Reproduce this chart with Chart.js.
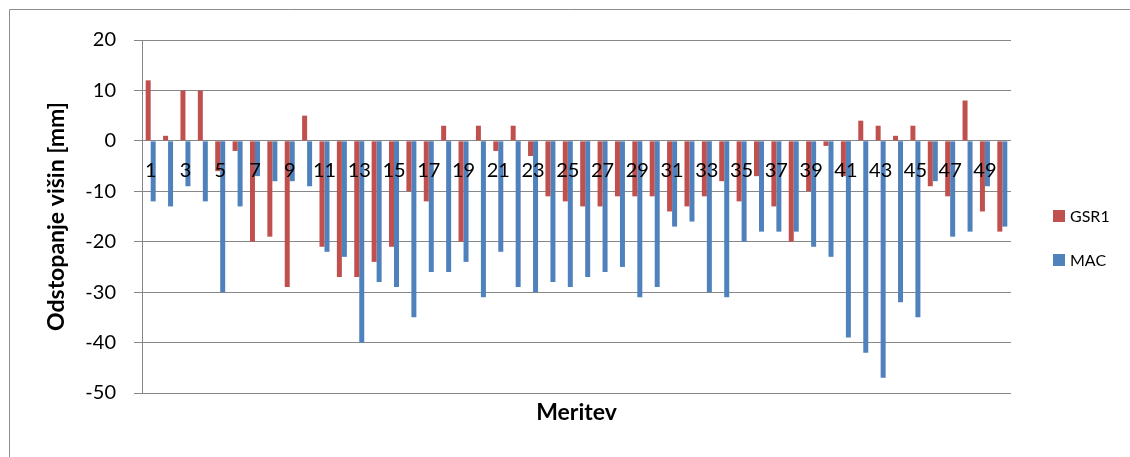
<!DOCTYPE html>
<html>
<head>
<meta charset="utf-8">
<script src="https://cdn.jsdelivr.net/npm/chart.js@4.4.1/dist/chart.umd.min.js"></script>
<style>
  html, body { margin: 0; padding: 0; background: #fff; }
  #wrap { position: relative; width: 1130px; height: 457px; }
</style>
</head>
<body>
<div id="wrap"><canvas id="odstopanja"></canvas></div>
<script>
// Meritve 1..50
const meritve = Array.from({ length: 50 }, (_, i) => String(i + 1));

// Odstopanja višin [mm]
const gsr1 = [12, 1, 10, 10, -6, -2, -20, -19, -29, 5,
  -21, -27, -27, -24, -21, -10, -12, 3, -20, 3,
  -2, 3, -3, -11, -12, -13, -13, -11, -11, -11,
  -14, -13, -11, -8, -12, -7, -13, -20, -10, -1,
  -7, 4, 3, 1, 3, -9, -11, 8, -14, -18];
const mac = [-12, -13, -9, -12, -30, -13, -7, -8, -8, -9,
  -22, -23, -40, -28, -29, -35, -26, -26, -24, -31,
  -22, -29, -30, -28, -29, -27, -26, -25, -31, -29,
  -17, -16, -30, -31, -20, -18, -18, -18, -21, -23,
  -39, -42, -47, -32, -35, -8, -19, -18, -9, -17];

const yTicks = { min: -50, max: 20, step: 10 };

const RDECA = '#C0504D';
const MODRA = '#4F81BD';
const MREZA = '#878787';
const FONT = 'Lato, "Liberation Sans", sans-serif';

// okvir in legenda (kot v Excelu)
const okvir = {
  id: 'okvir',
  afterDraw(chart) {
    const ctx = chart.ctx;
    ctx.save();
    ctx.strokeStyle = '#8c8c8c';
    ctx.lineWidth = 1;
    ctx.beginPath();
    ctx.moveTo(9.5, 457);
    ctx.lineTo(9.5, 9.5);
    ctx.lineTo(1130, 9.5);
    ctx.stroke();

    // legenda
    const vnosi = chart.data.datasets.map((d, i) => ({ text: d.label, color: d.backgroundColor, y: [216, 260][i] }));
    ctx.font = '16px ' + FONT;
    ctx.textBaseline = 'middle';
    vnosi.forEach(v => {
      ctx.fillStyle = v.color;
      ctx.fillRect(1053, v.y - 6, 12, 12);
      ctx.fillStyle = '#000';
      ctx.fillText(v.text, 1070, v.y + 1);
    });
    ctx.restore();
  }
};

const ctx = document.getElementById('odstopanja').getContext('2d');
new Chart(ctx, {
  type: 'bar',
  data: {
    labels: meritve,
    datasets: [
      { label: 'GSR1', data: gsr1, backgroundColor: RDECA, borderWidth: 0 },
      { label: 'MAC', data: mac, backgroundColor: MODRA, borderWidth: 0 }
    ]
  },
  options: {
    responsive: true,
    maintainAspectRatio: false,
    animation: false,
    layout: { padding: { left: 0, top: 40, right: 119, bottom: 0 } },
    datasets: { bar: { categoryPercentage: 0.575, barPercentage: 1 } },
    plugins: {
      legend: { display: false },
      tooltip: { enabled: false }
    },
    scales: {
      x: {
        position: { y: 0 },
        grid: { display: false },
        border: { display: false },
        ticks: {
          z: 1,
          autoSkip: false,
          maxRotation: 0,
          padding: 10,
          color: '#000',
          font: { family: FONT, size: 20 },
          callback: (v, i) => (i % 2 === 0 ? meritve[i] : '')
        }
      },
      x2: {
        type: 'category',
        labels: meritve,
        position: 'bottom',
        grid: { display: false },
        border: { display: false },
        ticks: { display: false },
        title: {
          display: true,
          text: 'Meritev',
          color: '#000',
          font: { family: FONT, size: 23, weight: 'bold' },
          padding: { top: 0, bottom: 31 }
        },
        afterFit: s => { s.height = 64; }
      },
      y: {
        min: yTicks.min,
        max: yTicks.max,
        grid: { color: MREZA, tickColor: MREZA, tickLength: 8 },
        border: { color: MREZA },
        ticks: {
          stepSize: yTicks.step,
          padding: 18,
          color: '#000',
          font: { family: FONT, size: 20 }
        },
        title: {
          display: true,
          text: 'Odstopanje višin [mm]',
          color: '#000',
          font: { family: FONT, size: 23, weight: 'bold' },
          padding: { top: 43, bottom: 0 }
        },
        afterFit: s => { s.width = 142; }
      }
    }
  },
  plugins: [okvir]
});
</script>
</body>
</html>
